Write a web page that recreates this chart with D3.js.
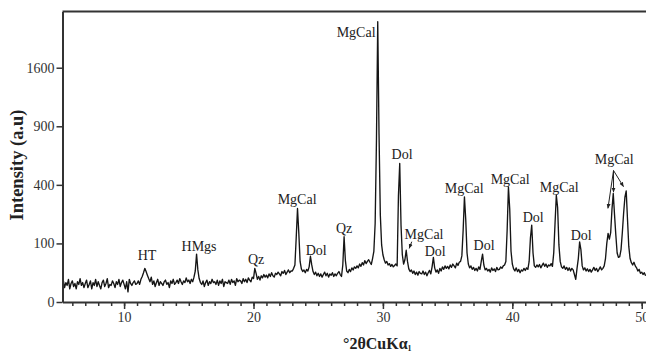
<!DOCTYPE html>
<html>
<head>
<meta charset="utf-8">
<script src="https://cdn.jsdelivr.net/npm/d3@7"></script>
<style>
  html, body { margin: 0; padding: 0; background: #fff; }
  svg text { font-family: "Liberation Serif", "Times New Roman", serif; }
</style>
</head>
<body>
<svg id="chart" width="646" height="354"></svg>
<script>
// XRD pattern, intensity every 0.1 deg 2theta starting at 5.0
const angleStart = 5.0;
const angleStep = 0.1;
const intensity = [
  9, 12, 7, 14, 6, 11, 8, 15, 5, 10,          // 5
  13, 7, 10, 5, 12, 9, 16, 8, 11, 6,          // 6
  10, 14, 6, 9, 13, 5, 11, 8, 15, 7,          // 7
  12, 8, 5, 11, 14, 7, 10, 16, 6, 9,          // 8
  8, 13, 10, 6, 12, 9, 15, 7, 11, 14,         // 9
  9, 5, 12, 3, 15, 10, 8, 11, 13, 9,          // 10
  10, 13, 9, 15, 19, 25, 33, 27, 21, 16,      // 11
  12, 18, 9, 13, 7, 11, 15, 8, 12, 10,        // 12
  8, 12, 14, 9, 11, 6, 13, 10, 15, 9,         // 13
  11, 14, 10, 16, 12, 9, 13, 11, 17, 12,      // 14
  14, 10, 15, 12, 18, 28, 67, 30, 16, 11,     // 15
  9, 13, 7, 11, 14, 8, 12, 10, 15, 11,        // 16
  12, 9, 14, 8, 13, 10, 15, 7, 12, 11,        // 17
  10, 14, 9, 15, 11, 13, 8, 16, 12, 14,       // 18
  13, 10, 16, 12, 15, 11, 17, 14, 12, 18,     // 19
  16, 33, 24, 15, 19, 14, 20, 17, 22, 18,     // 20
  21, 17, 23, 19, 25, 20, 18, 24, 22, 26,     // 21
  23, 20, 27, 24, 29, 22, 26, 30, 25, 28,     // 22
  28, 33, 40, 120, 255, 140, 48, 32, 27, 30,  // 23
  25, 31, 28, 36, 61, 40, 27, 22, 26, 20,     // 24
  24, 19, 23, 18, 22, 26, 20, 24, 18, 23,     // 25
  21, 25, 19, 23, 20, 24, 27, 22, 19, 40,     // 26
  124, 50, 28, 25, 31, 27, 34, 30, 36, 33,    // 27
  38, 34, 42, 37, 45, 40, 50, 43, 48, 52,     // 28
  46, 41, 55, 75, 180, 750, 2290, 820, 220, 95, // 29
  65, 52, 44, 48, 40, 43, 37, 41, 36, 39,     // 30
  42, 38, 330, 560, 170, 65, 42, 52, 78, 48,  // 31
  32, 27, 30, 24, 28, 22, 26, 21, 27, 24,     // 32
  23, 28, 22, 26, 20, 25, 29, 23, 36, 58,     // 33
  34, 26, 30, 24, 33, 28, 36, 31, 38, 33,     // 34
  37, 32, 40, 35, 42, 38, 34, 44, 39, 46,     // 35
  48, 62, 150, 322, 200, 70, 42, 34, 38, 31,  // 36
  35, 29, 33, 28, 36, 31, 48, 67, 40, 30,     // 37
  33, 28, 31, 26, 34, 29, 32, 27, 35, 30,     // 38
  31, 36, 33, 38, 40, 48, 150, 386, 250, 75,  // 39
  42, 32, 28, 34, 27, 31, 25, 30, 28, 33,     // 40
  29, 34, 31, 48, 120, 172, 70, 38, 35, 40,   // 41
  36, 41, 34, 39, 44, 37, 42, 35, 40, 38,     // 42
  43, 37, 70, 180, 332, 260, 95, 48, 36, 33,  // 43
  38, 31, 35, 29, 34, 28, 33, 30, 22, 15,     // 44
  33, 55, 105, 80, 38, 30, 34, 28, 32, 27,    // 45
  31, 26, 30, 35, 29, 33, 27, 31, 36, 30,     // 46
  33, 38, 55, 100, 137, 115, 140, 250, 343, 220, // 47
  130, 70, 58, 60, 80, 140, 230, 320, 360, 200,  // 48
  90, 55, 45, 40, 46, 38, 34, 28, 31, 24,     // 49
  26, 22, 25, 20                              // 50
];

const yTicks = [0, 100, 400, 900, 1600];
const xTicks = [10, 20, 30, 40, 50];
const xMinorTicks = d3.range(6, 51);

// phase labels: text, angle of label centre, intensity at text baseline
const labelText  = ['HT', 'HMgs', 'Qz', 'MgCal', 'Dol', 'Qz', 'MgCal', 'Dol', 'MgCal', 'Dol', 'MgCal', 'Dol', 'MgCal', 'Dol', 'MgCal', 'Dol', 'MgCal'];
const labelAngle = [11.77, 15.79, 20.2, 23.37, 24.84, 27.0, 27.93, 31.48, 33.18, 34.04, 36.28, 37.82, 39.83, 41.61, 43.62, 45.32, 47.87];
const labelLevel = [51, 75, 42, 279, 64, 138, 2053, 593, 115, 61, 345, 78, 404, 186, 351, 112, 553];

// arrows: [from angle, from intensity, to angle, to intensity]
const arrows = [
  [32.23, 106, 32.03, 84],
  [47.82, 504, 47.39, 256],
  [47.82, 504, 47.82, 352],
  [47.82, 504, 48.59, 388]
];

const svg = d3.select('#chart');
const plotLeft = 62.5, plotRight = 646, plotTop = 11.5, plotBottom = 302;

const x = d3.scaleLinear().domain([5.24, 50.33]).range([plotLeft, plotRight]);
const y = d3.scaleSqrt().domain([0, 2460]).range([plotBottom, plotTop]);

const defs = svg.append('defs');
defs.append('clipPath').attr('id', 'plot')
  .append('rect').attr('x', plotLeft).attr('y', plotTop)
  .attr('width', plotRight - plotLeft).attr('height', plotBottom - plotTop);

defs.append('marker')
  .attr('id', 'head').attr('viewBox', '0 0 10 10').attr('refX', 9).attr('refY', 5)
  .attr('markerWidth', 5).attr('markerHeight', 5).attr('orient', 'auto')
  .append('path').attr('d', 'M0,1 L10,5 L0,9 z').attr('fill', '#222');

const points = intensity.map((v, i) => [angleStart + i * angleStep, v]);

svg.append('path')
  .datum(points)
  .attr('clip-path', 'url(#plot)')
  .attr('fill', 'none')
  .attr('stroke', '#151515')
  .attr('stroke-width', 1.35)
  .attr('stroke-linejoin', 'round')
  .attr('d', d3.line().x(d => x(d[0])).y(d => y(d[1])));

// frame top
svg.append('line')
  .attr('x1', plotLeft).attr('x2', plotRight).attr('y1', plotTop).attr('y2', plotTop)
  .attr('stroke', '#333').attr('stroke-width', 2);

// x axis, minor then major
svg.append('g')
  .attr('transform', `translate(0,${plotBottom})`)
  .call(d3.axisBottom(x).tickValues(xMinorTicks).tickSize(4).tickSizeOuter(0).tickFormat(''))
  .call(g => g.selectAll('line').attr('stroke', '#333').attr('stroke-width', 1.5))
  .call(g => g.select('.domain').remove());

const xAxis = svg.append('g')
  .attr('transform', `translate(0,${plotBottom})`)
  .call(d3.axisBottom(x).tickValues(xTicks).tickSize(7).tickSizeOuter(0).tickPadding(3).tickFormat(d3.format('d')));
xAxis.select('.domain').attr('stroke', '#333').attr('stroke-width', 2);
xAxis.selectAll('line').attr('stroke', '#333').attr('stroke-width', 1.5);
xAxis.selectAll('text').attr('font-size', 14).attr('fill', '#333')
  .attr('font-family', '"Liberation Serif", serif');

const yAxis = svg.append('g')
  .attr('transform', `translate(${plotLeft},0)`)
  .call(d3.axisLeft(y).tickValues(yTicks).tickSize(6).tickSizeOuter(0).tickPadding(2).tickFormat(d3.format('d')));
yAxis.select('.domain').attr('stroke', '#333').attr('stroke-width', 2);
yAxis.selectAll('line').attr('stroke', '#333').attr('stroke-width', 1.5);
yAxis.selectAll('text').attr('font-size', 14).attr('fill', '#333')
  .attr('font-family', '"Liberation Serif", serif');

// axis titles
svg.append('text')
  .attr('transform', 'translate(23,165) rotate(-90)')
  .attr('text-anchor', 'middle')
  .attr('font-size', 18.5).attr('font-weight', 'bold').attr('fill', '#222')
  .text('Intensity (a.u)');

const xt = svg.append('text')
  .attr('x', 343).attr('y', 349)
  .attr('font-size', 16).attr('font-weight', 'bold').attr('fill', '#222');
xt.append('tspan').text('°2θCuKα');
xt.append('tspan').attr('font-size', 8).attr('dy', 2).text('1');

// phase labels
svg.append('g').selectAll('text')
  .data(labelText)
  .join('text')
  .attr('x', (d, i) => x(labelAngle[i]))
  .attr('y', (d, i) => y(labelLevel[i]))
  .attr('text-anchor', 'middle')
  .attr('font-size', 14).attr('fill', '#222')
  .text(d => d);

svg.append('g').selectAll('line')
  .data(arrows)
  .join('line')
  .attr('x1', d => x(d[0])).attr('y1', d => y(d[1]))
  .attr('x2', d => x(d[2])).attr('y2', d => y(d[3]))
  .attr('stroke', '#222').attr('stroke-width', 1)
  .attr('marker-end', 'url(#head)');
</script>
</body>
</html>
